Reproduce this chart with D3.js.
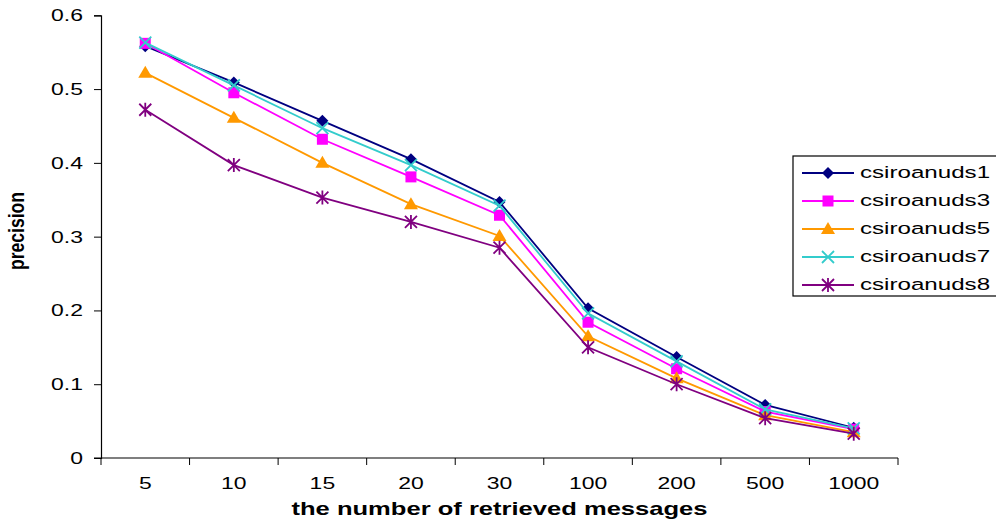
<!DOCTYPE html>
<html>
<head>
<meta charset="utf-8">
<script src="https://cdn.jsdelivr.net/npm/d3@7"></script>
<style>
body { margin: 0; background: #fff; }
text { font-family: "Liberation Sans", Arial, sans-serif; fill: #000; }
</style>
</head>
<body>
<script>
// categories on the x axis (ordinal, not numeric)
var cats = ["5", "10", "15", "20", "30", "100", "200", "500", "1000"];

// precision values
var run1 = [0.558, 0.509, 0.457, 0.405, 0.347, 0.203, 0.137, 0.072, 0.041];
var run3 = [0.562, 0.495, 0.432, 0.381, 0.329, 0.184, 0.121, 0.063, 0.039];
var run5 = [0.522, 0.461, 0.400, 0.344, 0.301, 0.165, 0.108, 0.058, 0.035];
var run7 = [0.563, 0.505, 0.447, 0.397, 0.342, 0.196, 0.131, 0.066, 0.040];
var run8 = [0.472, 0.397, 0.353, 0.320, 0.285, 0.150, 0.100, 0.054, 0.033];

var yTicks = [0, 0.1, 0.2, 0.3, 0.4, 0.5, 0.6];

var series = [
	{name: "csiroanuds1", vals: run1, color: "#000080", mark: "diamond"},
	{name: "csiroanuds3", vals: run3, color: "#ff00ff", mark: "square"},
	{name: "csiroanuds5", vals: run5, color: "#ff9900", mark: "triangle"},
	{name: "csiroanuds7", vals: run7, color: "#33cccc", mark: "cross"},
	{name: "csiroanuds8", vals: run8, color: "#800080", mark: "star"}
];

var w = 996, h = 522;
var padL = 101, padR = 898, padT = 15.3, padB = 458;
var stretch = 1.35; // the source picture is stretched sideways

var svg = d3.select("body").append("svg")
	.attr("width", w)
	.attr("height", h);

var x = d3.scaleBand().domain(cats).range([padL, padR]);
var y = d3.scaleLinear().domain([0, 0.6]).range([padB, padT]);

// text helper: place at (tx,ty) and widen
function label(g, tx, ty, str, size, anchor, bold, sx) {
	return g.append("text")
		.attr("transform", "translate(" + tx + "," + ty + ") scale(" + (sx || stretch) + ",1)")
		.attr("text-anchor", anchor || "start")
		.attr("font-size", size + "px")
		.attr("font-weight", bold ? "bold" : "normal")
		.text(str);
}

// y axis
var yAxis = d3.axisLeft(y).tickValues(yTicks).tickSize(7).tickFormat("");
var gy = svg.append("g").attr("transform", "translate(" + padL + ",0)").call(yAxis);
gy.select(".domain").attr("stroke", "#000").attr("stroke-width", 1.2);
gy.selectAll(".tick line").attr("stroke", "#000");
yTicks.forEach(function(t) {
	label(svg, 83, y(t) + 6, t === 0 ? "0" : d3.format(".1f")(t), 17, "end");
});

// x axis (ticks at band edges like Excel)
var edges = cats.map(function(c){ return x(c); }).concat([padR]);
svg.append("line").attr("x1", padL - 7).attr("x2", padR)
	.attr("y1", padB).attr("y2", padB).attr("stroke", "#000").attr("stroke-width", 1.2);
svg.selectAll(".xt").data(edges).enter().append("line")
	.attr("x1", function(d){ return d; }).attr("x2", function(d){ return d; })
	.attr("y1", padB).attr("y2", padB + 7).attr("stroke", "#000");
cats.forEach(function(c) {
	label(svg, x(c) + x.bandwidth() / 2, 489, c, 17, "middle");
});

// axis titles
label(svg, (padL + padR) / 2, 515, "the number of retrieved messages", 18, "middle", true, 1.42);
svg.append("text")
	.attr("transform", "translate(24,231) rotate(-90) scale(1,1.25)")
	.attr("text-anchor", "middle").attr("font-size", "17px").attr("font-weight", "bold")
	.attr("textLength", 78).attr("lengthAdjust", "spacingAndGlyphs")
	.text("precision");

// markers
function drawMark(g, kind, cx, cy, color) {
	if (kind === "diamond") {
		g.append("path").attr("d", "M" + cx + "," + (cy - 6) + "L" + (cx + 6) + "," + cy + "L" + cx + "," + (cy + 6) + "L" + (cx - 6) + "," + cy + "Z")
			.attr("fill", color);
	} else if (kind === "square") {
		g.append("rect").attr("x", cx - 5.5).attr("y", cy - 5.5).attr("width", 11).attr("height", 11).attr("fill", color);
	} else if (kind === "triangle") {
		g.append("path").attr("d", "M" + cx + "," + (cy - 7) + "L" + (cx + 7) + "," + (cy + 5) + "L" + (cx - 7) + "," + (cy + 5) + "Z")
			.attr("fill", color);
	} else if (kind === "cross") {
		g.append("path").attr("d", "M" + (cx - 6) + "," + (cy - 6) + "L" + (cx + 6) + "," + (cy + 6) + "M" + (cx + 6) + "," + (cy - 6) + "L" + (cx - 6) + "," + (cy + 6))
			.attr("stroke", color).attr("stroke-width", 1.8);
	} else if (kind === "star") {
		g.append("path").attr("d", "M" + (cx - 6) + "," + (cy - 6) + "L" + (cx + 6) + "," + (cy + 6) + "M" + (cx + 6) + "," + (cy - 6) + "L" + (cx - 6) + "," + (cy + 6) + "M" + cx + "," + (cy - 7) + "L" + cx + "," + (cy + 7))
			.attr("stroke", color).attr("stroke-width", 1.8);
	}
}

var line = d3.line()
	.x(function(d, i){ return x(cats[i]) + x.bandwidth() / 2; })
	.y(function(d){ return y(d); });

series.forEach(function(s) {
	var g = svg.append("g");
	g.append("path").datum(s.vals).attr("d", line)
		.attr("fill", "none").attr("stroke", s.color).attr("stroke-width", 1.8);
	s.vals.forEach(function(v, i) {
		drawMark(g, s.mark, x(cats[i]) + x.bandwidth() / 2, y(v), s.color);
	});
});

// legend
var lg = svg.append("g");
lg.append("rect").attr("x", 793).attr("y", 156).attr("width", 210).attr("height", 140)
	.attr("fill", "#fff").attr("stroke", "#000").attr("stroke-width", 1.2);
series.forEach(function(s, i) {
	var ly = 173 + i * 28;
	lg.append("line").attr("x1", 802).attr("x2", 854).attr("y1", ly).attr("y2", ly)
		.attr("stroke", s.color).attr("stroke-width", 1.8);
	drawMark(lg, s.mark, 828, ly, s.color);
	label(lg, 860, ly + 5, s.name, 17, "start", false, 1.42);
});
</script>
</body>
</html>
